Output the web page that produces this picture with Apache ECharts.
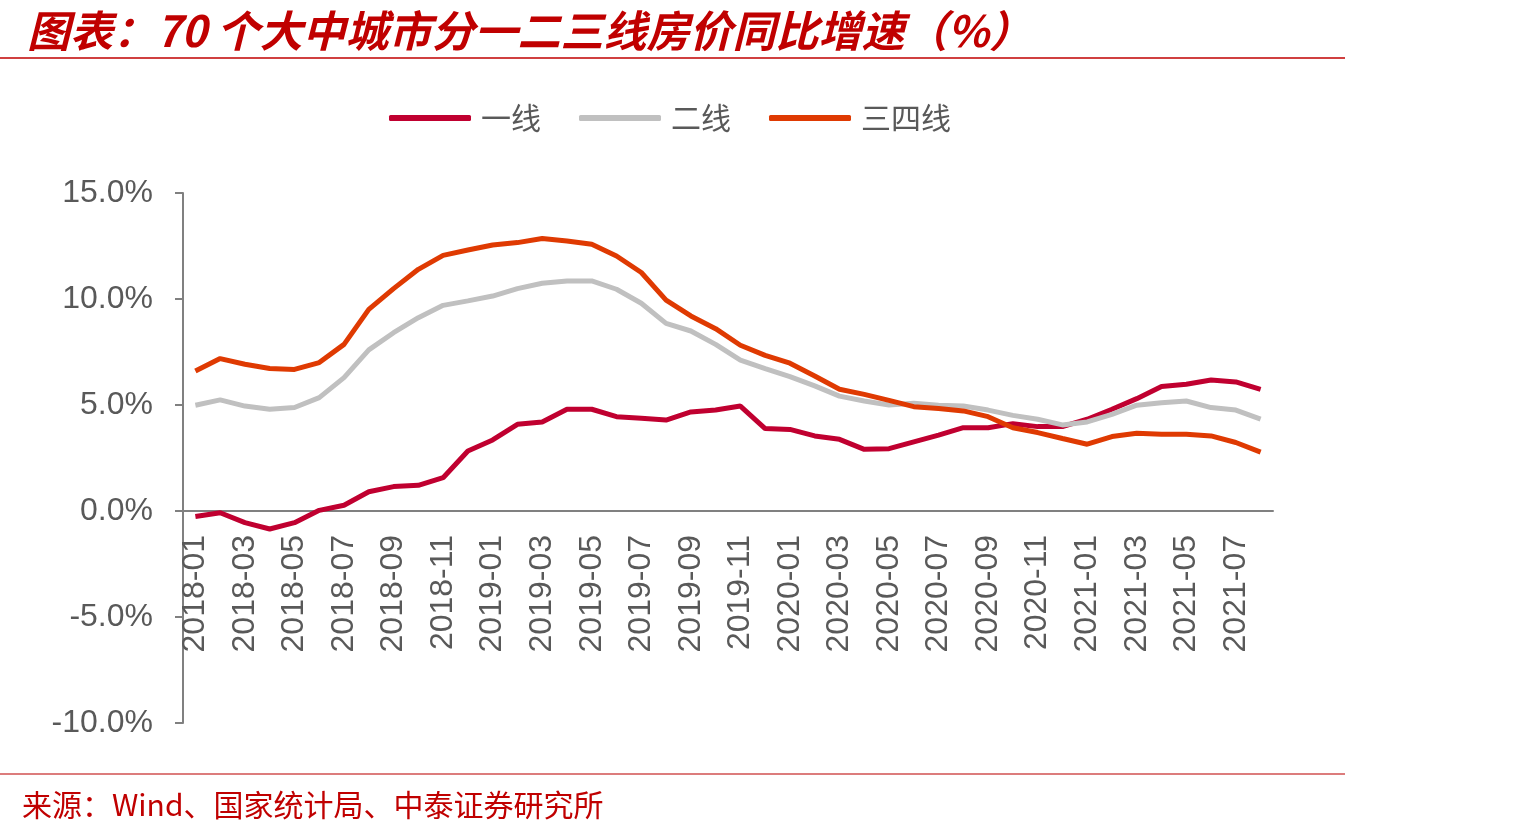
<!DOCTYPE html>
<html>
<head>
<meta charset="utf-8">
<script src="https://cdn.jsdelivr.net/npm/echarts@6/dist/echarts.min.js"></script>
<style>
  html, body { margin: 0; padding: 0; background: #fff; }
  #main { width: 1535px; height: 839px; }
</style>
</head>
<body>
<div id="main"></div>
<script>
// 月份
var months = [
  '2018-01','2018-02','2018-03','2018-04','2018-05','2018-06','2018-07','2018-08','2018-09','2018-10','2018-11','2018-12',
  '2019-01','2019-02','2019-03','2019-04','2019-05','2019-06','2019-07','2019-08','2019-09','2019-10','2019-11','2019-12',
  '2020-01','2020-02','2020-03','2020-04','2020-05','2020-06','2020-07','2020-08','2020-09','2020-10','2020-11','2020-12',
  '2021-01','2021-02','2021-03','2021-04','2021-05','2021-06','2021-07','2021-08'
];
var seriesNames = ['一线', '二线', '三四线'];
// 房价同比增速 (%)
var tier1 = [-0.26, -0.08, -0.55, -0.85, -0.55, 0.03, 0.27, 0.91, 1.15, 1.21, 1.57, 2.83, 3.35, 4.09, 4.2,
  4.8, 4.8, 4.45, 4.37, 4.29, 4.67, 4.76, 4.95, 3.89, 3.85, 3.54, 3.38, 2.91, 2.94,
  3.26, 3.58, 3.93, 3.93, 4.12, 3.98, 3.98, 4.33, 4.8, 5.3, 5.87, 5.98, 6.18, 6.09, 5.74];
var tier2 = [4.99, 5.24, 4.95, 4.8, 4.88, 5.35, 6.29, 7.6, 8.41, 9.12, 9.7, 9.91, 10.14, 10.49, 10.74,
  10.85, 10.85, 10.46, 9.8, 8.85, 8.49, 7.86, 7.12, 6.72, 6.34, 5.9, 5.42, 5.19, 5.0,
  5.08, 4.99, 4.95, 4.76, 4.51, 4.33, 4.06, 4.2, 4.56, 4.99, 5.11, 5.19, 4.88, 4.76, 4.33];
var tier34 = [6.6, 7.19, 6.92, 6.72, 6.68, 7.0, 7.86, 9.51, 10.49, 11.4, 12.06, 12.31, 12.55, 12.66, 12.85,
  12.74, 12.58, 12.03, 11.25, 9.95, 9.2, 8.6, 7.82, 7.34, 6.97, 6.37, 5.74, 5.5, 5.22,
  4.92, 4.83, 4.72, 4.45, 3.93, 3.7, 3.42, 3.15, 3.51, 3.67, 3.62, 3.62, 3.54, 3.23, 2.78];
var colors = ['#c00030', '#c0c0c0', '#df3a02'];

var myChart = echarts.init(document.getElementById('main'));
var axisColor = '#808080';
var textColor = '#595959';
var redColor = '#c00000';

var option = {
    animation: false,
    title: {
        text: '图表：70 个大中城市分一二三线房价同比增速（%）',
        left: 22,
        top: 4,
        textStyle: {
            fontFamily: 'Noto Sans CJK SC',
            fontSize: 43,
            fontStyle: 'italic',
            fontWeight: 'bold',
            color: redColor
        }
    },
    graphic: [
        { type: 'line', shape: { x1: 0, y1: 58, x2: 1345, y2: 58 }, style: { stroke: redColor, lineWidth: 1.5 } },
        { type: 'line', shape: { x1: 0, y1: 774, x2: 1345, y2: 774 }, style: { stroke: '#d05050', lineWidth: 1.5 } },
        {
            type: 'text', left: 22, top: 790,
            style: {
                text: '来源：Wind、国家统计局、中泰证券研究所',
                font: '30px "Noto Sans CJK SC"',
                fill: redColor
            }
        }
    ],
    color: colors,
    legend: {
        data: seriesNames,
        left: 384,
        top: 98,
        icon: 'roundRect',
        itemWidth: 82,
        itemHeight: 6,
        itemGap: 38,
        textStyle: {
            fontFamily: 'Noto Sans CJK SC',
            fontSize: 30,
            color: textColor,
            padding: [0, 0, 0, 5]
        }
    },
    grid: {
        left: 183,
        right: 262,
        top: 193,
        bottom: 116,
        outerBoundsMode: 'none'
    },
    xAxis: {
        type: 'category',
        boundaryGap: true,
        data: months,
        position: 'bottom',
        offset: -212,
        axisLine: { onZero: false, lineStyle: { color: axisColor, width: 2 } },
        axisTick: { interval: 1, length: 8, lineStyle: { color: axisColor, width: 2 } },
        axisLabel: {
            interval: 1,
            rotate: 90,
            margin: 24,
            fontFamily: 'Liberation Sans',
            fontSize: 32,
            color: textColor
        }
    },
    yAxis: {
        type: 'value',
        min: -10,
        max: 15,
        interval: 5,
        splitLine: { show: false },
        axisLine: { show: true, lineStyle: { color: axisColor, width: 2 } },
        axisTick: { show: true, length: 8, lineStyle: { color: axisColor, width: 2 } },
        axisLabel: {
            margin: 30,
            fontFamily: 'Liberation Sans',
            fontSize: 32,
            color: textColor,
            formatter: function (v) { return v.toFixed(1) + '%'; }
        }
    },
    series: [
        { name: seriesNames[0], type: 'line', data: tier1, symbol: 'none', lineStyle: { width: 5 } },
        { name: seriesNames[1], type: 'line', data: tier2, symbol: 'none', lineStyle: { width: 5 } },
        { name: seriesNames[2], type: 'line', data: tier34, symbol: 'none', lineStyle: { width: 5 } }
    ]
};
myChart.setOption(option);
</script>
</body>
</html>
